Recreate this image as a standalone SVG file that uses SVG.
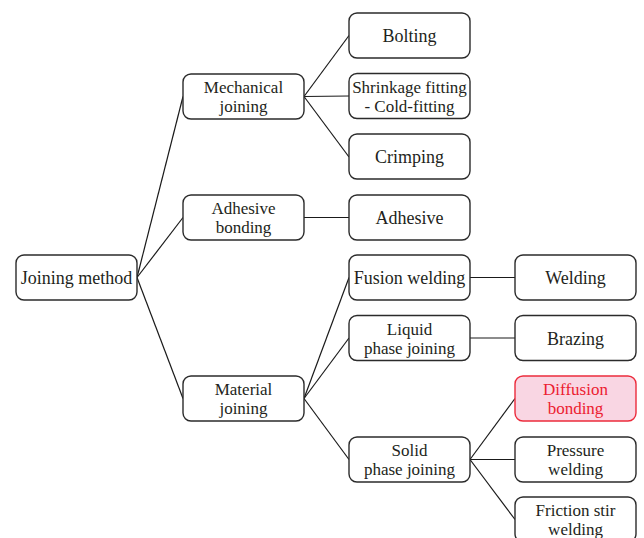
<svg xmlns="http://www.w3.org/2000/svg" width="644" height="538" viewBox="0 0 644 538">
<style>
.b{fill:#fff;stroke:#2b2b2b;stroke-width:1.4}
.h{fill:#f9d6e3;stroke:#ec2c3c;stroke-width:1.4}
text{font-family:"Liberation Serif","Times New Roman",serif;font-size:18px;fill:#231f20;text-anchor:middle}
text.t{font-size:17px}
.r{fill:#ec2030}
.c line{stroke:#1a1a1a;stroke-width:1.2}
</style>
<rect width="644" height="538" fill="#fff"/>
<g class="c" id="connectors">
<line x1="137" y1="277.5" x2="183" y2="96.5"/>
<line x1="137" y1="277.5" x2="183" y2="217.5"/>
<line x1="137" y1="277.5" x2="183" y2="398.5"/>
<line x1="304" y1="96.5" x2="349" y2="35.5"/>
<line x1="304" y1="96.5" x2="349" y2="96"/>
<line x1="304" y1="96.5" x2="349" y2="157"/>
<line x1="304" y1="217.5" x2="349" y2="217.5"/>
<line x1="304" y1="398.5" x2="349" y2="277.5"/>
<line x1="304" y1="398.5" x2="349" y2="338"/>
<line x1="304" y1="398.5" x2="349" y2="459.5"/>
<line x1="470" y1="277.5" x2="515" y2="277.5"/>
<line x1="470" y1="338" x2="515" y2="338"/>
<line x1="470" y1="459.5" x2="515" y2="398.5"/>
<line x1="470" y1="459.5" x2="515" y2="459.5"/>
<line x1="470" y1="459.5" x2="515" y2="519.5"/>
</g>
<g id="root"><rect class="b" x="16" y="255" width="121" height="45" rx="8"/><text x="76.5" y="284">Joining method</text></g>
<g id="mechanical"><rect class="b" x="183" y="74" width="121" height="45" rx="8"/><text class="t" x="243.5" y="93">Mechanical</text><text class="t" x="243.5" y="112">joining</text></g>
<g id="adhesive-bonding"><rect class="b" x="183" y="195" width="121" height="45" rx="8"/><text class="t" x="243.5" y="214">Adhesive</text><text class="t" x="243.5" y="233">bonding</text></g>
<g id="material"><rect class="b" x="183" y="376" width="121" height="45" rx="8"/><text class="t" x="243.5" y="395">Material</text><text class="t" x="243.5" y="414">joining</text></g>
<g id="bolting"><rect class="b" x="349" y="13" width="121" height="45" rx="8"/><text x="409.5" y="42">Bolting</text></g>
<g id="shrinkage"><rect class="b" x="349" y="73.5" width="121" height="45" rx="8"/><text class="t" x="409.5" y="92.5">Shrinkage fitting</text><text class="t" x="409.5" y="111.5">- Cold-fitting</text></g>
<g id="crimping"><rect class="b" x="349" y="134" width="121" height="45" rx="8"/><text x="409.5" y="163">Crimping</text></g>
<g id="adhesive"><rect class="b" x="349" y="195" width="121" height="45" rx="8"/><text x="409.5" y="224">Adhesive</text></g>
<g id="fusion"><rect class="b" x="349" y="255" width="121" height="45" rx="8"/><text x="409.5" y="284">Fusion welding</text></g>
<g id="liquid"><rect class="b" x="349" y="315.5" width="121" height="45" rx="8"/><text class="t" x="409.5" y="334.5">Liquid</text><text class="t" x="409.5" y="353.5">phase joining</text></g>
<g id="solid"><rect class="b" x="349" y="437" width="121" height="45" rx="8"/><text class="t" x="409.5" y="456">Solid</text><text class="t" x="409.5" y="475">phase joining</text></g>
<g id="welding"><rect class="b" x="515" y="255" width="121" height="45" rx="8"/><text x="575.5" y="284">Welding</text></g>
<g id="brazing"><rect class="b" x="515" y="315.5" width="121" height="45" rx="8"/><text x="575.5" y="344.5">Brazing</text></g>
<g id="diffusion"><rect class="h" x="515" y="376" width="121" height="45" rx="8"/><text class="t r" x="575.5" y="395">Diffusion</text><text class="t r" x="575.5" y="414">bonding</text></g>
<g id="pressure"><rect class="b" x="515" y="437" width="121" height="45" rx="8"/><text class="t" x="575.5" y="456">Pressure</text><text class="t" x="575.5" y="475">welding</text></g>
<g id="friction"><rect class="b" x="515" y="497" width="121" height="45" rx="8"/><text class="t" x="575.5" y="516">Friction stir</text><text class="t" x="575.5" y="535">welding</text></g>
</svg>
